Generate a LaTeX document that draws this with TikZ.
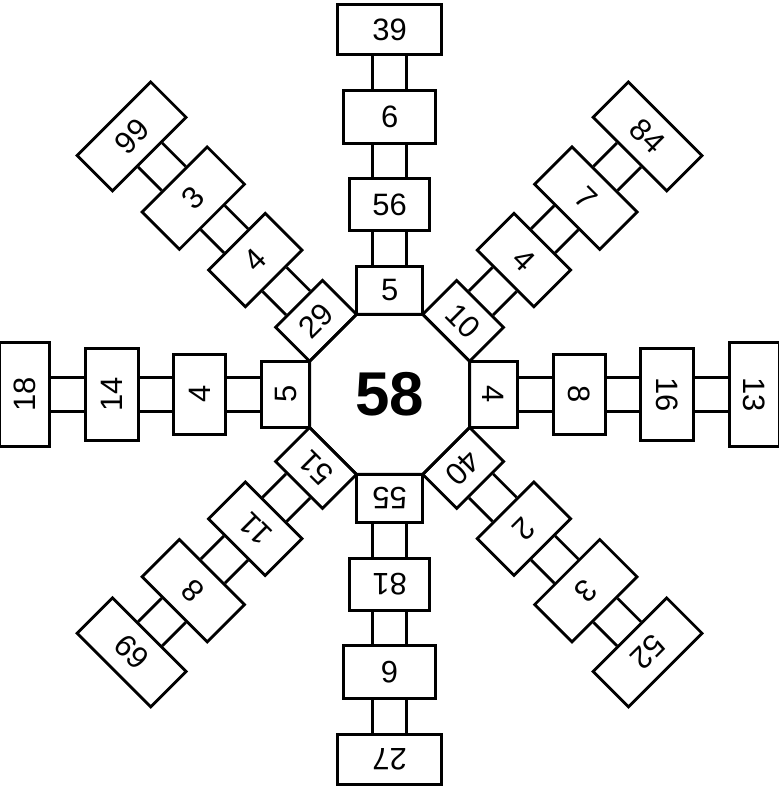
\documentclass[tikz,border=0pt]{standalone}
\usepackage{fontspec}
\setmainfont{Liberation Sans}
\usetikzlibrary{calc}
\tikzset{
    cell/.style={
        draw,
        line width=2pt,
        inner sep=0pt,
        font=\fontsize{22}{24}\selectfont
    },
    hub/.style={
        font=\fontsize{44}{48}\selectfont\bfseries
    },
    rung/.style={line width=2pt},
    octo/.style={line width=2pt}
}

\begin{document}
\begin{tikzpicture}[x=1mm,y=1mm]
    \useasboundingbox (-97.4,-99.9) rectangle (97.1,98.6);
    \draw[octo] (22.5:21.65) \foreach \k in {1,...,7}{-- (22.5+45*\k:21.65)} -- cycle;
    \node[hub] (hub) at (0,0) {58};
    \foreach \a/\arm/\la/\lb/\lc/\ld in {90/n/5/56/6/39, 45/ne/10/4/7/84, 0/e/4/8/16/13, -45/se/40/2/3/52, -90/s/55/81/6/27, -135/sw/51/11/8/69, 180/w/5/4/14/18, 135/nw/29/4/3/99}{
        \node[cell, rotate=\a-90, minimum width=16.57mm, minimum height=12mm] (\arm1) at (\a:26) {\la};
        \node[cell, rotate=\a-90, minimum width=20mm, minimum height=13mm] (\arm2) at (\a:47.5) {\lb};
        \node[cell, rotate=\a-90, minimum width=23mm, minimum height=13.2mm] (\arm3) at (\a:69.4) {\lc};
        \node[cell, rotate=\a-90, minimum width=26mm, minimum height=12.5mm] (\arm4) at (\a:91.2) {\ld};
        \foreach \i/\j in {1/2,2/3,3/4}{
            \draw[rung] ($(\arm\i.north)!4.25mm!(\arm\i.north west)$) -- ($(\arm\j.south)!4.25mm!(\arm\j.south west)$);
            \draw[rung] ($(\arm\i.north)!4.25mm!(\arm\i.north east)$) -- ($(\arm\j.south)!4.25mm!(\arm\j.south east)$);
        }
    }
\end{tikzpicture}
\end{document}
